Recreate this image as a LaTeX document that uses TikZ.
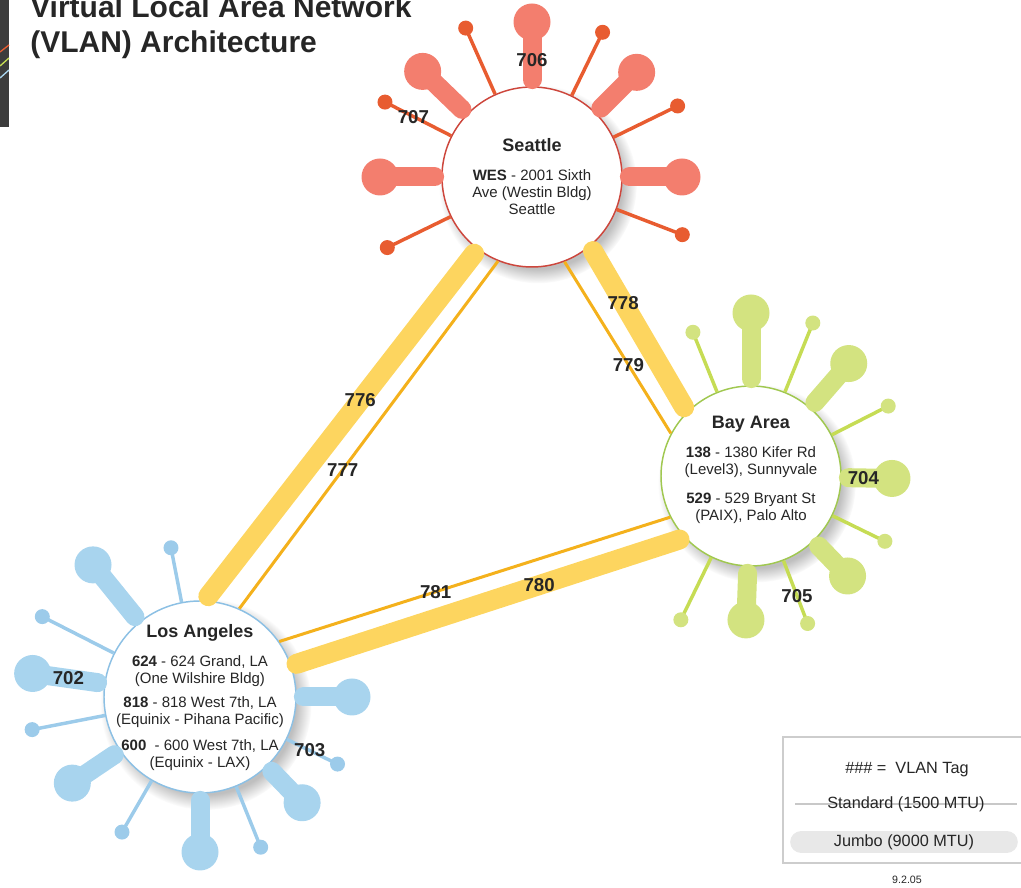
\documentclass[tikz,border=0pt]{standalone}
\usepackage{fontspec}
\setmainfont{Liberation Sans}
\usetikzlibrary{calc,shadows,positioning}

\definecolor{seaA}{RGB}{243,126,110}
\definecolor{seaB}{RGB}{232,92,48}
\definecolor{seaRim}{RGB}{205,70,60}
\definecolor{bayA}{RGB}{211,227,128}
\definecolor{bayB}{RGB}{198,220,84}
\definecolor{bayRim}{RGB}{160,200,80}
\definecolor{laA}{RGB}{168,212,238}
\definecolor{laB}{RGB}{156,203,234}
\definecolor{laRim}{RGB}{140,192,228}
\definecolor{linkA}{RGB}{253,213,95}
\definecolor{linkB}{RGB}{244,177,28}
\definecolor{ink}{RGB}{38,38,38}
\definecolor{stripgray}{RGB}{60,60,60}
\definecolor{keyline}{RGB}{200,200,200}
\definecolor{keybar}{RGB}{232,232,232}
\definecolor{keybox}{RGB}{205,205,205}

\begin{document}
\begin{tikzpicture}
[
  x=0.75pt, y=0.75pt,
  hub/.style={circle, fill=white, inner sep=0pt, line width=1.1pt,
    circular drop shadow={shadow xshift=4pt, shadow yshift=-5pt, opacity=.5}},
  hubtext/.style={align=center, inner sep=0pt, text=ink,
    font=\fontsize{11.25}{12.75}\selectfont},
  bigball/.style={circle, inner sep=0pt, minimum size=27.75pt},
  smallball/.style={circle, inner sep=0pt, minimum size=11.25pt},
  bigstem/.style={line width=14.25pt, line cap=round, shorten <=5pt},
  smallstem/.style={line width=2.6pt},
  jumbo/.style={line width=15pt, line cap=round, linkA, shorten <=4pt, shorten >=4pt},
  standard/.style={line width=2.25pt, linkB},
  tag/.style={font=\fontsize{14}{14}\selectfont\bfseries, text=ink, inner sep=0pt},
  title/.style={font=\fontsize{22.5}{26}\selectfont\bfseries, text=ink, inner sep=0pt, anchor=base west},
  keytext/.style={font=\fontsize{12.2}{14}\selectfont, text=ink, inner sep=0pt}
]
  \useasboundingbox (0,0) rectangle (1021,888);

  % title and the strip at the left edge
  \fill[stripgray] (0,761) rectangle (9,888);
  \draw[seaB, line width=1pt] (0,836) -- (9,843);
  \draw[bayB, line width=1pt] (0,822) -- (9,830);
  \draw[laA, line width=1pt] (0,810) -- (9,818);
  \node[title] (title1) at (30,870) {Virtual Local Area Network};
  \node[title] (title2) at (30,835) {(VLAN) Architecture};

  % hubs
  \node[hub, draw=seaRim, minimum size=135pt] (sea) at (532,711) {};
  \node[hub, draw=bayRim, minimum size=135pt] (bay) at (751,412) {};
  \node[hub, draw=laRim, minimum size=144pt] (la) at (200,191) {};

  % links between hubs
  \draw[jumbo] (sea.233) -- node[tag, pos=.43] {776} (la.87);
  \draw[standard] (sea.248) -- node[tag, pos=.6] {777} (la.66);
  \draw[jumbo] (sea.310) -- node[tag, pos=.34] {778} (bay.135);
  \draw[standard] (sea.291) -- node[tag, pos=.6] {779} (bay.152);
  \draw[jumbo] (la.19) -- node[tag, pos=.63] {780} (bay.223);
  \draw[standard] (la.35) -- node[tag, pos=.4] {781} (bay.207);

  % Seattle spokes
  \draw[bigstem, seaA] (sea.90) -- ($(sea.center)+(90:155)$) node[bigball, fill=seaA] (sea-90) {} node[tag, pos=.41] {706};
  \draw[bigstem, seaA] (sea.136) -- ($(sea.center)+(136:152)$) node[bigball, fill=seaA] (sea-136) {};
  \draw[bigstem, seaA] (sea.180) -- ($(sea.center)+(180:152)$) node[bigball, fill=seaA] (sea-180) {};
  \draw[bigstem, seaA] (sea.45) -- ($(sea.center)+(45:148)$) node[bigball, fill=seaA] (sea-45) {};
  \draw[bigstem, seaA] (sea.0) -- ($(sea.center)+(0:150)$) node[bigball, fill=seaA] (sea-0) {};
  \draw[smallstem, seaB] (sea.114) -- ($(sea.center)+(114:163)$) node[smallball, fill=seaB] (sea-114) {};
  \draw[smallstem, seaB] (sea.64) -- ($(sea.center)+(64:161)$) node[smallball, fill=seaB] (sea-64) {};
  \draw[smallstem, seaB] (sea.26) -- ($(sea.center)+(26:162)$) node[smallball, fill=seaB] (sea-26) {};
  \draw[smallstem, seaB] (sea.339) -- ($(sea.center)+(339:161)$) node[smallball, fill=seaB] (sea-339) {};
  \draw[smallstem, seaB] (sea.206) -- ($(sea.center)+(206:161)$) node[smallball, fill=seaB] (sea-206) {};
  \draw[smallstem, seaB] (sea.153) -- ($(sea.center)+(153:165)$) node[smallball, fill=seaB] (sea-153) {} node[tag, pos=.57] {707};

  % Bay Area spokes
  \draw[bigstem, bayA] (bay.90) -- ($(bay.center)+(90:163)$) node[bigball, fill=bayA] (bay-90) {};
  \draw[bigstem, bayA] (bay.49) -- ($(bay.center)+(49:149)$) node[bigball, fill=bayA] (bay-49) {};
  \draw[bigstem, bayA] (bay.359) -- ($(bay.center)+(359:141)$) node[bigball, fill=bayA] (bay-359) {} node[tag, pos=.43] {704};
  \draw[bigstem, bayA] (bay.314) -- ($(bay.center)+(314:139)$) node[bigball, fill=bayA] (bay-314) {};
  \draw[bigstem, bayA] (bay.268) -- ($(bay.center)+(268:144)$) node[bigball, fill=bayA] (bay-268) {};
  \draw[smallstem, bayB] (bay.112) -- ($(bay.center)+(112:155)$) node[smallball, fill=bayA] (bay-112) {};
  \draw[smallstem, bayB] (bay.68) -- ($(bay.center)+(68:165)$) node[smallball, fill=bayA] (bay-68) {};
  \draw[smallstem, bayB] (bay.27) -- ($(bay.center)+(27:154)$) node[smallball, fill=bayA] (bay-27) {};
  \draw[smallstem, bayB] (bay.334) -- ($(bay.center)+(334:149)$) node[smallball, fill=bayA] (bay-334) {};
  \draw[smallstem, bayB] (bay.291) -- ($(bay.center)+(291:158)$) node[smallball, fill=bayA] (bay-291) {} node[tag, pos=.56] {705};
  \draw[smallstem, bayB] (bay.244) -- ($(bay.center)+(244:160)$) node[smallball, fill=bayA] (bay-244) {};

  % Los Angeles spokes
  \draw[bigstem, laA] (la.129) -- ($(la.center)+(129:170)$) node[bigball, fill=laA] (la-129) {};
  \draw[bigstem, laA] (la.172) -- ($(la.center)+(172:169)$) node[bigball, fill=laA] (la-172) {} node[tag, pos=.5] {702};
  \draw[bigstem, laA] (la.214) -- ($(la.center)+(214:154)$) node[bigball, fill=laA] (la-214) {};
  \draw[bigstem, laA] (la.270) -- ($(la.center)+(270:155)$) node[bigball, fill=laA] (la-270) {};
  \draw[bigstem, laA] (la.314) -- ($(la.center)+(314:147)$) node[bigball, fill=laA] (la-314) {};
  \draw[bigstem, laA] (la.0) -- ($(la.center)+(0:152)$) node[bigball, fill=laA] (la-0) {};
  \draw[smallstem, laB] (la.101) -- ($(la.center)+(101:152)$) node[smallball, fill=laB] (la-101) {};
  \draw[smallstem, laB] (la.153) -- ($(la.center)+(153:177)$) node[smallball, fill=laB] (la-153) {};
  \draw[smallstem, laB] (la.191) -- ($(la.center)+(191:171)$) node[smallball, fill=laB] (la-191) {};
  \draw[smallstem, laB] (la.240) -- ($(la.center)+(240:156)$) node[smallball, fill=laB] (la-240) {};
  \draw[smallstem, laB] (la.292) -- ($(la.center)+(292:162)$) node[smallball, fill=laB] (la-292) {};
  \draw[smallstem, laB] (la.334) -- ($(la.center)+(334:153)$) node[smallball, fill=laB] (la-334) {} node[tag, pos=.45] {703};

  % hub texts
  \node[hubtext] (sea-text) at (532,711.5) {{\fontsize{13.5}{13.5}\selectfont\bfseries Seattle}\\[9pt]
    \textbf{WES} - 2001 Sixth\\ Ave (Westin Bldg)\\ Seattle};
  \node[hubtext] (bay-text) at (751,418) {{\fontsize{13.5}{13.5}\selectfont\bfseries Bay Area}\\[9pt]
    \textbf{138} - 1380 Kifer Rd\\ (Level3), Sunnyvale\\[9.5pt]
    \textbf{529} - 529 Bryant St\\ (PAIX), Palo Alto};
  \node[hubtext] (la-text) at (200,190.5) {{\fontsize{13.5}{13.5}\selectfont\bfseries Los Angeles}\\[9pt]
    \textbf{624} - 624 Grand, LA\\ (One Wilshire Bldg)\\[5pt]
    \textbf{818} - 818 West 7th, LA\\ (Equinix - Pihana Pacific)\\[7pt]
    \textbf{600}~ - 600 West 7th, LA\\ (Equinix - LAX)};

  % key
  \draw[keybox, line width=0.8pt] (783,25) rectangle (1030,151);
  \node[keytext] (key-tag) at (907,118) {\#\#\# =\ \ VLAN Tag};
  \coordinate (std-l) at (795,84);
  \coordinate (std-r) at (1017,84);
  \draw[keyline, line width=2.2pt] (std-l) -- node[keytext] {Standard (1500 MTU)} (std-r);
  \coordinate (jum-l) at (801.5,46);
  \coordinate (jum-r) at (1006.5,46);
  \draw[keybar, line width=17pt, line cap=round] (jum-l) -- node[keytext] {Jumbo (9000 MTU)} (jum-r);
  \node[font=\fontsize{8}{8}\selectfont, text=ink, inner sep=0pt] (date) at (907,8) {9.2.05};
\end{tikzpicture}
\end{document}
